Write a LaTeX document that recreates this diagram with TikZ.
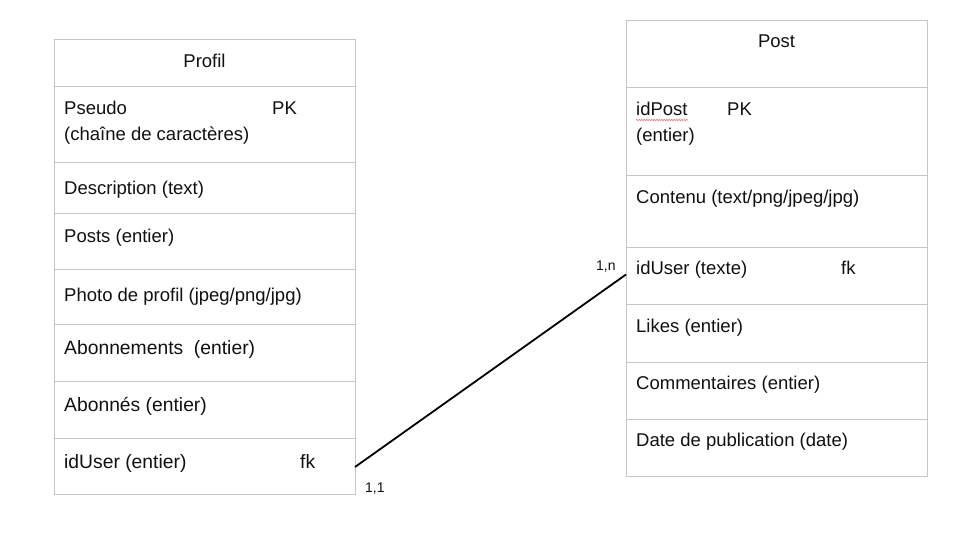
\documentclass[tikz,border=0pt]{standalone}
\usepackage{fontspec}
\setmainfont{Liberation Sans}
\usetikzlibrary{decorations.pathmorphing}
\definecolor{gridgray}{HTML}{C6C6C6}
\definecolor{ink}{HTML}{111111}
\tikzset{
  cell/.style={draw=gridgray, line width=1pt, anchor=north west, minimum width=301pt, inner sep=0pt, outer sep=0pt},
  txt/.style={anchor=base west, inner sep=0pt, text=ink, font=\fontsize{18.5}{22}\selectfont},
  txtb/.style={anchor=base west, inner sep=0pt, text=ink, font=\fontsize{19.3}{23}\selectfont},
  head/.style={anchor=base, inner sep=0pt, text=ink, font=\fontsize{18.5}{22}\selectfont},
  card/.style={inner sep=0pt, text=ink, font=\fontsize{14}{16}\selectfont},
  link/.style={draw=black, line width=1.8pt}
}
\begin{document}
\begin{tikzpicture}[x=1pt,y=-1pt]
\useasboundingbox[fill=white] (0,0) rectangle (955,534);
% Profil table
\node[cell, minimum height=47pt] (pH) at (54,40) {};
\node[cell, minimum height=76pt] (pPseudo) at (54,87) {};
\node[cell, minimum height=51pt] (pDesc) at (54,163) {};
\node[cell, minimum height=56pt] (pPosts) at (54,214) {};
\node[cell, minimum height=55pt] (pPhoto) at (54,270) {};
\node[cell, minimum height=56pt] (pAbo) at (54,325) {};
\node[cell, minimum height=57pt] (pAbs) at (54,381) {};
\node[cell, minimum height=56pt] (pId) at (54,438) {};
\node[head] (tProfil) at (204.5,68) {Profil};
\node[txt] (tPseudo) at (64,115) {Pseudo};
\node[txt] (tPK1) at (272,115) {PK};
\node[txt] (tChaine) at (64,141) {(chaîne de caractères)};
\node[txt] (tDesc) at (64,195) {Description (text)};
\node[txt] (tPosts) at (64,243) {Posts (entier)};
\node[txt] (tPhoto) at (64,302) {Photo de profil (jpeg/png/jpg)};
\node[txtb] (tAbo) at (64,354) {Abonnements\ \ (entier)};
\node[txtb] (tAbs) at (64,411) {Abonnés (entier)};
\node[txtb] (tId) at (64,468) {idUser (entier)};
\node[txtb] (tFk1) at (300,468) {fk};
% Post table
\node[cell, minimum height=67pt] (qH) at (626,21) {};
\node[cell, minimum height=88pt] (qIdPost) at (626,88) {};
\node[cell, minimum height=72pt] (qCont) at (626,176) {};
\node[cell, minimum height=57pt] (qId) at (626,248) {};
\node[cell, minimum height=57pt] (qLikes) at (626,305) {};
\node[cell, minimum height=57pt] (qCom) at (626,362) {};
\node[cell, minimum height=57pt] (qDate) at (626,419) {};
\node[head] (tPost) at (776.5,48) {Post};
\node[txt] (tIdPost) at (636,116) {idPost};
\node[txt] (tPK2) at (727,116) {PK};
\node[txt] (tEntier) at (636,142) {(entier)};
\node[txt] (tCont) at (636,204) {Contenu (text/png/jpeg/jpg)};
\node[txt] (tIdU) at (636,275) {idUser (texte)};
\node[txt] (tFk2) at (841,275) {fk};
\node[txt] (tLikes) at (636,332) {Likes (entier)};
\node[txt] (tCom) at (636,389) {Commentaires (entier)};
\node[txt] (tDate) at (636,446) {Date de publication (date)};
\draw[red!55, line width=0.6pt, decorate, decoration={snake, amplitude=0.7pt, segment length=2.5pt}]
  ([yshift=-4pt]tIdPost.base west) -- ([yshift=-4pt]tIdPost.base east);
% relation
\coordinate (a) at ([yshift=-1pt]pId.east);
\coordinate (b) at ([yshift=2pt]qId.west);
\draw[link] (a) -- (b);
\node[card, anchor=base west] (c11) at (365,492) {1,1};
\node[card, anchor=base west] (c1n) at (596,271) {1,n};
\end{tikzpicture}
\end{document}
